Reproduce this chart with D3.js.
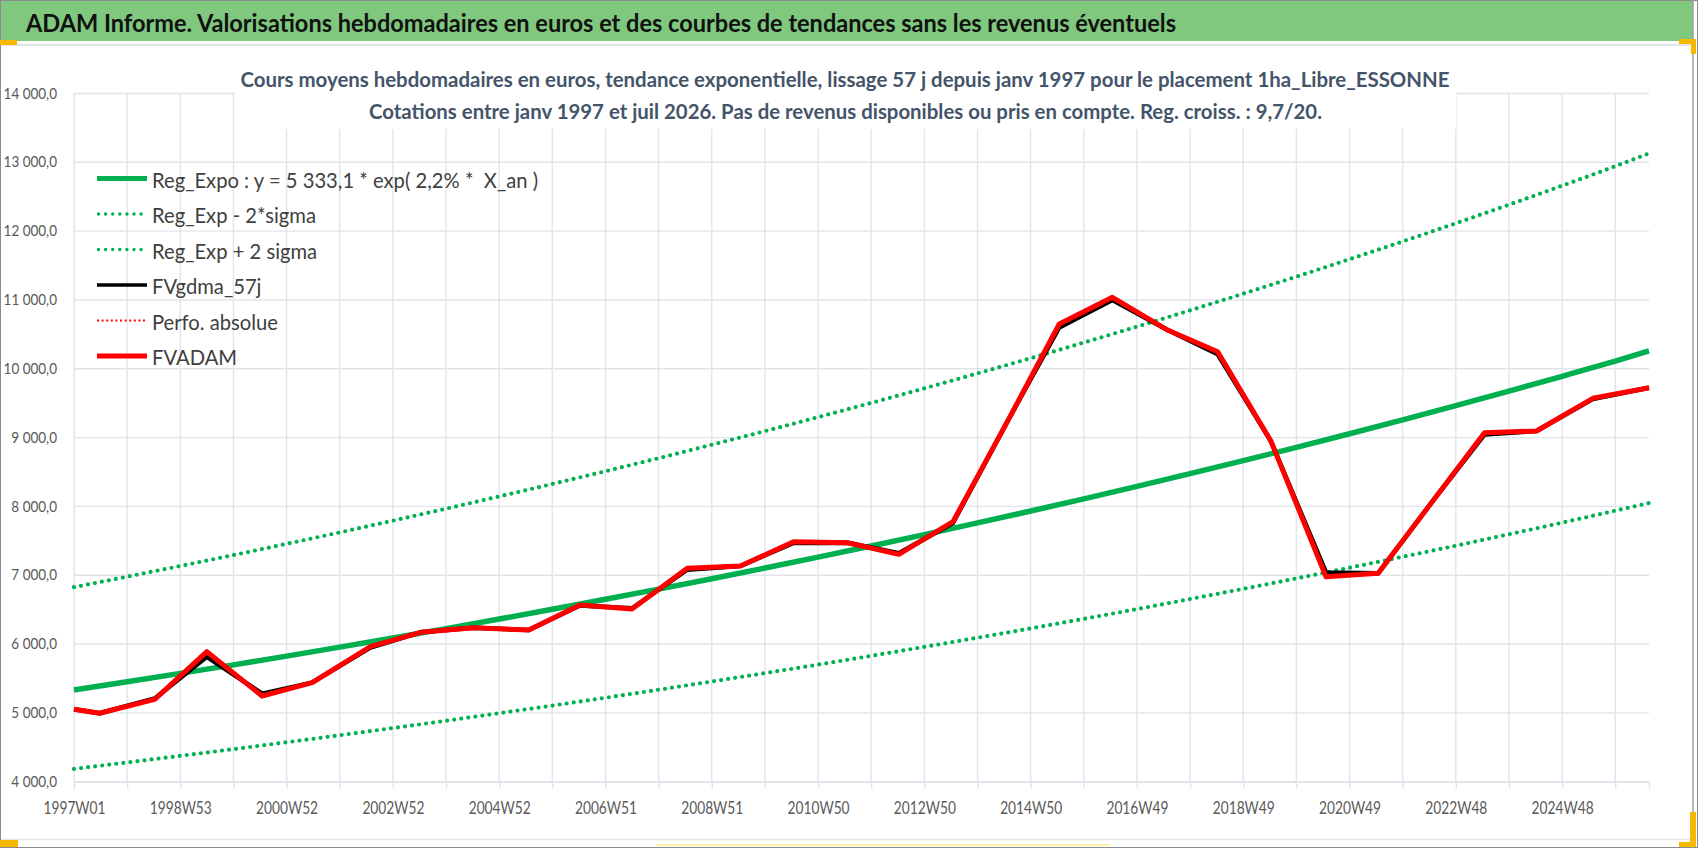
<!DOCTYPE html>
<html lang="fr">
<head>
<meta charset="utf-8">
<title>ADAM Informe</title>
<script src="https://d3js.org/d3.v7.min.js"></script>
<style>
  body { margin: 0; background: #fff; }
  text { font-family: Lato, "Open Sans", sans-serif; }
</style>
</head>
<body>
<div id="chart"></div>
<script>
// categories : index de semaine depuis 1997W01 (1 point = 1 semaine)
const nbSemaines = 1542;
const etiquettesX = ["1997W01", "1998W53", "2000W52", "2002W52", "2004W52", "2006W51", "2008W51",
  "2010W50", "2012W50", "2014W50", "2016W49", "2018W49", "2020W49", "2022W48", "2024W48"];
const ticksY = [4000, 5000, 6000, 7000, 8000, 9000, 10000, 11000, 12000, 13000, 14000];

// courbes de tendance (un point par an environ)
const semainesTendance = [0, 52, 104, 156, 208, 260, 312, 364, 416, 468, 520, 572, 624, 676, 728, 780,
  832, 884, 936, 988, 1040, 1092, 1144, 1196, 1248, 1300, 1352, 1404, 1456, 1508, 1541];
const regExpo = [5333, 5452, 5574, 5698, 5825, 5955, 6088, 6224, 6363, 6505, 6650, 6798, 6950, 7105, 7263, 7425,
  7591, 7760, 7933, 8110, 8291, 8476, 8665, 8858, 9056, 9258, 9464, 9675, 9891, 10112, 10260];
const regExpMoins = [4186, 4280, 4376, 4473, 4573, 4675, 4779, 4886, 4995, 5106, 5220, 5336, 5456, 5577, 5701, 5829,
  5959, 6092, 6227, 6366, 6508, 6654, 6802, 6954, 7109, 7268, 7429, 7595, 7764, 7938, 8049];
const regExpPlus = [6826, 6979, 7135, 7293, 7456, 7622, 7793, 7967, 8145, 8326, 8512, 8701, 8896, 9094, 9297, 9504,
  9716, 9933, 10154, 10381, 10612, 10849, 11091, 11338, 11592, 11850, 12114, 12384, 12660, 12943, 13130];

// cours
const semainesCours = [0, 25, 79, 130, 184, 233, 290, 339, 391, 445, 495, 546, 600, 652, 704, 757,
  807, 860, 912, 964, 1016, 1070, 1119, 1171, 1225, 1276, 1328, 1380, 1431, 1486, 1541];
const fvadam = [5052, 4994, 5197, 5889, 5245, 5439, 5962, 6170, 6238, 6204, 6568, 6510, 7101, 7134, 7487, 7473,
  7304, 7778, 9200, 10651, 11039, 10563, 10248, 8950, 6979, 7028, 8050, 9071, 9096, 9571, 9725];
const fvgdma57j = [5052, 4994, 5210, 5815, 5280, 5439, 5950, 6170, 6238, 6204, 6560, 6520, 7080, 7134, 7470, 7473,
  7320, 7760, 9200, 10600, 11000, 10563, 10210, 8950, 7040, 7028, 8050, 9045, 9096, 9560, 9725];

const legende = [
  { nom: "Reg_Expo : y = 5 333,1 * exp( 2,2% *  X_an )", type: "expo" },
  { nom: "Reg_Exp - 2*sigma", type: "band" },
  { nom: "Reg_Exp + 2 sigma", type: "band" },
  { nom: "FVgdma_57j", type: "gdma" },
  { nom: "Perfo. absolue", type: "perfo" },
  { nom: "FVADAM", type: "adam" }
];

const W = 1698, H = 848;
const margin = { top: 93.5, right: 49, bottom: 66.3, left: 74 };

const svg = d3.select("#chart").append("svg")
  .attr("width", W).attr("height", H);

// cadre et bandeau
svg.append("rect").attr("width", W).attr("height", H).attr("fill", "#fff");
svg.append("rect").attr("x", 1).attr("y", 1).attr("width", 1692).attr("height", 40).attr("fill", "#7fc87e");
svg.append("line").attr("x1", 1).attr("x2", 1693).attr("y1", 45).attr("y2", 45).attr("stroke", "#e3e3e3").attr("stroke-width", 2);
svg.append("line").attr("x1", 1).attr("x2", 1693).attr("y1", 839.5).attr("y2", 839.5).attr("stroke", "#e6e6e6").attr("stroke-width", 1.5);
svg.append("line").attr("x1", 656).attr("x2", 1110).attr("y1", 845).attr("y2", 845).attr("stroke", "#fff1a8").attr("stroke-width", 2);
svg.append("rect").attr("x", 0.5).attr("y", 0.5).attr("width", W - 1).attr("height", H - 1)
  .attr("fill", "none").attr("stroke", "#8a8a8a");
svg.append("line").attr("x1", 1693).attr("x2", 1693).attr("y1", 0).attr("y2", H).attr("stroke", "#a0a0a0").attr("stroke-width", 1.5);
// poignées jaunes
const jaune = "#f6b900";
[[0, 40, 17, 5], [1679, 39, 17, 5], [1691, 39, 5, 15], [0, 840, 18, 7], [1679, 842, 17, 5], [1690, 812, 6, 35]]
  .forEach(r => svg.append("rect").attr("x", r[0]).attr("y", r[1]).attr("width", r[2]).attr("height", r[3]).attr("fill", jaune));

svg.append("text").attr("x", 26).attr("y", 32)
  .attr("font-size", 24.5).attr("font-weight", 700).attr("fill", "#111")
  .attr("textLength", 1150).attr("lengthAdjust", "spacingAndGlyphs")
  .text("ADAM Informe. Valorisations hebdomadaires en euros et des courbes de tendances sans les revenus éventuels");

// échelles
const x = d3.scaleLinear().domain([0, nbSemaines - 1]).range([margin.left, W - margin.right]);
const y = d3.scaleLinear().domain([4000, 14000]).range([H - margin.bottom, margin.top]);

const grille = "#e1e4ea";
const semainesGrille = d3.range(0, nbSemaines, 52);

svg.append("g").selectAll("line").data(ticksY).join("line")
  .attr("x1", x(0)).attr("x2", x(nbSemaines - 1))
  .attr("y1", d => y(d)).attr("y2", d => y(d))
  .attr("stroke", grille).attr("stroke-width", 1.4);
svg.append("g").selectAll("line").data(semainesGrille).join("line")
  .attr("x1", d => x(d)).attr("x2", d => x(d))
  .attr("y1", y(14000)).attr("y2", y(4000))
  .attr("stroke", grille).attr("stroke-width", 1.4);

// axe X
const axeX = d3.axisBottom(x).tickValues(semainesGrille).tickSize(7)
  .tickFormat(d => d % 104 === 0 ? etiquettesX[d / 104] : "");
const gx = svg.append("g").attr("transform", `translate(0,${y(4000)})`).call(axeX);
gx.select(".domain").attr("stroke", grille).attr("stroke-width", 1.4);
gx.selectAll(".tick line").attr("stroke", grille).attr("stroke-width", 1.4);
gx.selectAll(".tick text").attr("y", 32.5).attr("dy", 0)
  .attr("font-size", 17).attr("fill", "#595959").attr("font-family", "Lato")
  .each(function (d) { if (d % 104 === 0) { this.setAttribute("textLength", 62); this.setAttribute("lengthAdjust", "spacingAndGlyphs"); } });

// axe Y
const fr = d3.formatLocale({ decimal: ",", thousands: " ", grouping: [3], currency: ["", " €"] });
const axeY = d3.axisLeft(y).tickValues(ticksY).tickSize(0).tickPadding(17).tickFormat(fr.format(",.1f"));
const gy = svg.append("g").attr("transform", `translate(${margin.left},0)`).call(axeY);
gy.select(".domain").remove();
gy.selectAll(".tick text").attr("font-size", 14.5).attr("fill", "#595959").attr("font-family", "Lato")
  .each(function () { const w = this.getComputedTextLength(); this.setAttribute("textLength", w * 0.93); this.setAttribute("lengthAdjust", "spacingAndGlyphs"); });

// sous-titre sur fond blanc
svg.append("rect").attr("x", 235).attr("y", 60).attr("width", 1221).attr("height", 69).attr("fill", "#fff");
svg.append("text").attr("x", 845).attr("y", 87).attr("text-anchor", "middle")
  .attr("font-size", 21).attr("font-weight", 700).attr("fill", "#44546a")
  .attr("textLength", 1209).attr("lengthAdjust", "spacingAndGlyphs")
  .text("Cours moyens hebdomadaires en euros, tendance exponentielle, lissage 57 j depuis janv 1997 pour le placement 1ha_Libre_ESSONNE");
svg.append("text").attr("x", 845.5).attr("y", 118.5).attr("text-anchor", "middle")
  .attr("font-size", 21).attr("font-weight", 700).attr("fill", "#44546a")
  .attr("textLength", 953).attr("lengthAdjust", "spacingAndGlyphs")
  .text("Cotations entre janv 1997 et juil 2026. Pas de revenus disponibles ou pris en compte. Reg. croiss. : 9,7/20.");

const vert = "#00b050";
const ligneTendance = d3.line().x((d, i) => x(semainesTendance[i])).y(d => y(d)).curve(d3.curveMonotoneX);
const ligneCours = d3.line().x((d, i) => x(semainesCours[i])).y(d => y(d));

[regExpMoins, regExpPlus].forEach(serie => {
  svg.append("path").datum(serie).attr("d", ligneTendance)
    .attr("fill", "none").attr("stroke", vert).attr("stroke-width", 4.2)
    .attr("stroke-linecap", "round").attr("stroke-dasharray", "0 7.1");
});
svg.append("path").datum(regExpo).attr("d", ligneTendance)
  .attr("fill", "none").attr("stroke", vert).attr("stroke-width", 5.5);

svg.append("path").datum(fvgdma57j).attr("d", ligneCours)
  .attr("fill", "none").attr("stroke", "#000").attr("stroke-width", 4.5).attr("stroke-linejoin", "round");
svg.append("path").datum(fvadam).attr("d", ligneCours)
  .attr("fill", "none").attr("stroke", "#ff0000").attr("stroke-width", 5).attr("stroke-linejoin", "round");

// légende
const leg = svg.append("g").selectAll("g").data(legende).join("g")
  .attr("transform", (d, i) => `translate(97,${178.5 + i * 35.5})`);
leg.each(function (d) {
  const g = d3.select(this);
  const l = g.append("line").attr("x1", 0).attr("x2", 50).attr("y1", 0).attr("y2", 0).attr("fill", "none");
  if (d.type === "expo") l.attr("stroke", vert).attr("stroke-width", 5);
  if (d.type === "band") l.attr("stroke", vert).attr("stroke-width", 3.4).attr("stroke-linecap", "round").attr("stroke-dasharray", "0 7.1").attr("x1", 1.5);
  if (d.type === "gdma") l.attr("stroke", "#000").attr("stroke-width", 3.5);
  if (d.type === "perfo") l.attr("stroke", "#ff0000").attr("stroke-width", 2).attr("stroke-dasharray", "2 2.6");
  if (d.type === "adam") l.attr("stroke", "#ff0000").attr("stroke-width", 5);
});
const legTxt = leg.append("text").attr("x", 55).attr("y", 9)
  .attr("font-size", 22).attr("fill", "#404040").style("white-space", "pre")
  .text(d => d.nom);
const ref = legTxt.filter((d, i) => i === 1).node().getComputedTextLength();
const k = 164 / ref;
legTxt.each(function () { const w = this.getComputedTextLength(); this.setAttribute("textLength", w * k); this.setAttribute("lengthAdjust", "spacingAndGlyphs"); });
</script>
</body>
</html>
